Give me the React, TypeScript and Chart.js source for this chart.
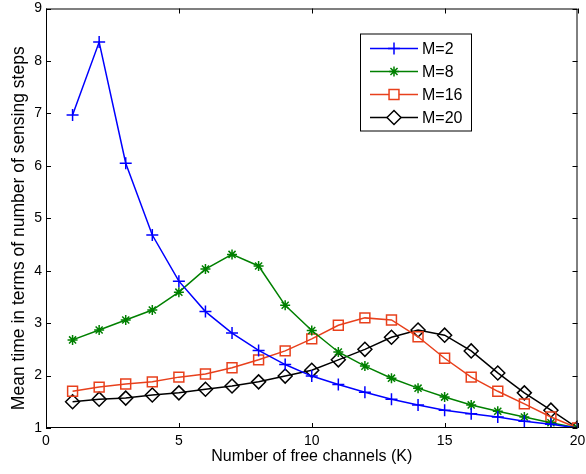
import React, { useEffect, useRef } from "react";
import { Chart, registerables } from "chart.js";

Chart.register(...registerables);

const kValues = [1, 2, 3, 4, 5, 6, 7, 8, 9, 10, 11, 12, 13, 14, 15, 16, 17, 18, 19, 20];
const m2 = [6.97, 8.36, 6.05, 4.68, 3.8, 3.22, 2.81, 2.48, 2.21, 1.99, 1.83, 1.68, 1.55, 1.44, 1.34, 1.27, 1.21, 1.13, 1.07, 1.0];
const m8 = [2.68, 2.87, 3.06, 3.25, 3.59, 4.03, 4.31, 4.09, 3.34, 2.86, 2.45, 2.18, 1.95, 1.76, 1.59, 1.44, 1.32, 1.21, 1.1, 1.0];
const m16 = [1.7, 1.78, 1.84, 1.88, 1.97, 2.03, 2.15, 2.3, 2.47, 2.7, 2.96, 3.1, 3.06, 2.74, 2.33, 1.97, 1.7, 1.46, 1.21, 1.0];
const m20 = [1.5, 1.55, 1.57, 1.63, 1.67, 1.74, 1.8, 1.88, 1.99, 2.1, 2.3, 2.5, 2.73, 2.87, 2.77, 2.47, 2.05, 1.67, 1.34, 1.0];
const seriesLabels = ["M=2", "M=8", "M=16", "M=20"];
const xTicks = [0, 5, 10, 15, 20];
const yTicks = [1, 2, 3, 4, 5, 6, 7, 8, 9];
const xTitle = "Number of free channels (K)";
const yTitle = "Mean time in terms of number of sensing steps";

const FONT = "'Liberation Sans', Arial, Helvetica, sans-serif";

function drawMarker(ctx: CanvasRenderingContext2D, ds: any, x: number, y: number) {
  const r = ds.pointRadius;
  ctx.strokeStyle = ds.pointBorderColor || ds.borderColor;
  ctx.fillStyle = "#fff";
  ctx.beginPath();
  if (ds.pointStyle === "cross") {
    ctx.moveTo(x - r, y); ctx.lineTo(x + r, y);
    ctx.moveTo(x, y - r); ctx.lineTo(x, y + r);
  } else if (ds.pointStyle === "star") {
    ctx.moveTo(x - r, y); ctx.lineTo(x + r, y);
    ctx.moveTo(x, y - r); ctx.lineTo(x, y + r);
    const d = r * Math.SQRT1_2;
    ctx.moveTo(x - d, y - d); ctx.lineTo(x + d, y + d);
    ctx.moveTo(x - d, y + d); ctx.lineTo(x + d, y - d);
  } else if (ds.pointStyle === "rect") {
    const s = r * Math.SQRT1_2;
    ctx.rect(x - s, y - s, 2 * s, 2 * s);
    ctx.fill();
  } else {
    ctx.moveTo(x - r, y); ctx.lineTo(x, y - r); ctx.lineTo(x + r, y); ctx.lineTo(x, y + r); ctx.closePath();
    ctx.fill();
  }
  ctx.stroke();
}

const boxPlugin = {
  id: "matlabBox",
  afterDatasetsDraw(chart: any) {
    const { ctx, chartArea: a, scales } = chart;
    const xs = scales.x;
    const ys = scales.y;
    ctx.save();
    ctx.strokeStyle = "#000";
    ctx.lineWidth = 1;
    ctx.strokeRect(a.left + 0.5, a.top + 0.5, a.right - a.left - 1, a.bottom - a.top - 1);
    const tl = 5;
    ctx.beginPath();
    xTicks.forEach((v) => {
      const px = Math.round(xs.getPixelForValue(v)) + 0.5;
      ctx.moveTo(px, a.bottom);
      ctx.lineTo(px, a.bottom - tl);
      ctx.moveTo(px, a.top);
      ctx.lineTo(px, a.top + tl);
    });
    yTicks.forEach((v) => {
      const py = Math.round(ys.getPixelForValue(v)) + 0.5;
      ctx.moveTo(a.left, py);
      ctx.lineTo(a.left + tl, py);
      ctx.moveTo(a.right, py);
      ctx.lineTo(a.right - tl, py);
    });
    ctx.stroke();

    // y-axis title
    ctx.save();
    ctx.translate(19.5, (a.top + a.bottom) / 2 + 10);
    ctx.rotate(-Math.PI / 2);
    ctx.font = `17.5px ${FONT}`;
    ctx.fillStyle = "#000";
    ctx.textAlign = "center";
    ctx.textBaseline = "middle";
    ctx.fillText(yTitle, 0, 0);
    ctx.restore();

    // legend box
    const lx = a.left + 314;
    const ly = a.top + 25;
    const lw = 111;
    const lh = 97;
    ctx.fillStyle = "#fff";
    ctx.fillRect(lx, ly, lw, lh);
    ctx.strokeStyle = "#000";
    ctx.lineWidth = 1;
    ctx.strokeRect(lx + 0.5, ly + 0.5, lw, lh);
    ctx.font = `16px ${FONT}`;
    ctx.textBaseline = "middle";
    ctx.textAlign = "left";
    chart.data.datasets.forEach((ds: any, i: number) => {
      const y = ly + 15 + i * 23;
      ctx.strokeStyle = ds.borderColor;
      ctx.lineWidth = 1.5;
      ctx.beginPath();
      ctx.moveTo(lx + 10, y);
      ctx.lineTo(lx + 58, y);
      ctx.stroke();
      drawMarker(ctx, ds, lx + 34, y);
      ctx.fillStyle = "#000";
      ctx.fillText(ds.label, lx + 62, y + 1);
    });
    ctx.restore();
  },
};

export default function App() {
  const ref = useRef<HTMLCanvasElement>(null);
  useEffect(() => {
    document.body.style.margin = "0";
    const mk = (label: string, data: number[], color: string, style: string, r: number) => ({
      label,
      data: data.map((v, i) => ({ x: kValues[i], y: v })),
      borderColor: color,
      backgroundColor: "#fff",
      pointBorderColor: color,
      pointBackgroundColor: "rgba(255,255,255,0)",
      pointStyle: style,
      pointRadius: r,
      pointBorderWidth: 1.5,
      borderWidth: 1.5,
      tension: 0,
    });
    const chart = new Chart(ref.current!, {
      type: "line",
      data: {
        datasets: [
          mk(seriesLabels[0], m2, "#0000ff", "cross", 6),
          mk(seriesLabels[1], m8, "#008000", "star", 5),
          mk(seriesLabels[2], m16, "#e8401c", "rect", 7),
          mk(seriesLabels[3], m20, "#000000", "rectRot", 7),
        ] as any,
      },
      options: {
        animation: false,
        responsive: false,
        devicePixelRatio: 1,
        layout: { padding: { top: 8, right: 7, left: 0, bottom: 0 } },
        plugins: { legend: { display: false }, tooltip: { enabled: false } },
        scales: {
          x: {
            type: "linear",
            min: 0,
            max: 20,
            afterBuildTicks: (s: any) => { s.ticks = xTicks.map((v) => ({ value: v })); },
            afterFit: (s: any) => { s.height = 46; s.paddingLeft = 0; s.paddingRight = 0; },
            grid: { display: false, drawTicks: false },
            border: { display: false },
            ticks: { color: "#000", font: { family: FONT, size: 14 }, padding: 5, maxRotation: 0 },
            title: { display: true, text: xTitle, color: "#000", font: { family: FONT, size: 16 }, padding: { top: 0, bottom: 8 } },
          },
          y: {
            type: "linear",
            min: 1,
            max: 9,
            afterBuildTicks: (s: any) => { s.ticks = yTicks.map((v) => ({ value: v })); },
            afterFit: (s: any) => { s.width = 46; s.paddingTop = 0; s.paddingBottom = 0; },
            grid: { display: false, drawTicks: false },
            border: { display: false },
            ticks: { color: "#000", font: { family: FONT, size: 14 }, padding: 4 },
            title: { display: false },
          },
        },
      } as any,
      plugins: [boxPlugin],
    });
    return () => chart.destroy();
  }, []);
  return (
    <div style={{ position: "fixed", left: 0, top: 0, width: 586, height: 474, background: "#fff" }}>
      <canvas ref={ref} width={586} height={474} style={{ display: "block" }} />
    </div>
  );
}
